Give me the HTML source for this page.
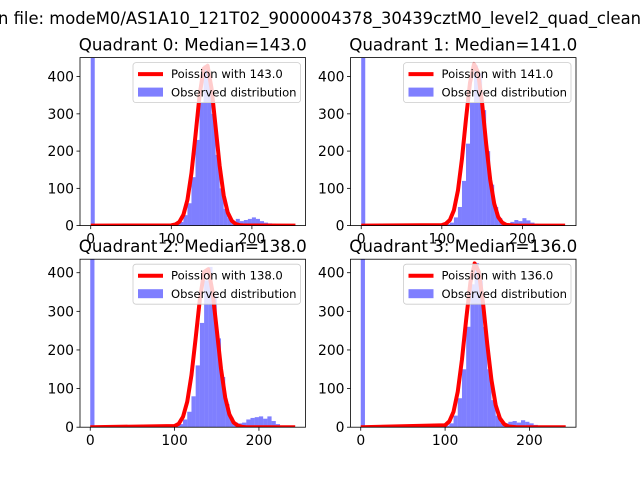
<!DOCTYPE html>
<html><head><meta charset="utf-8"><style>
html,body{margin:0;padding:0;background:#fff;}
svg{display:block;font-family:"DejaVu Sans","Liberation Sans",sans-serif;}
</style></head><body>
<svg id="fig" width="640" height="480" viewBox="0 0 640 480">
<rect width="640" height="480" fill="#fff"/>
<text x="-2" y="24" font-size="16.7" textLength="643" lengthAdjust="spacingAndGlyphs">n file: modeM0/AS1A10_121T02_9000004378_30439cztM0_level2_quad_clean</text>
</svg>
<script>
const medians = [143.0, 141.0, 138.0, 136.0];
const binStarts = [];
for (let b = 0; b < 250; b += 5) binStarts.push(b);
const hist0 = [2000,0,0,0,0,0,0,0,0,0,0,0,0,0,1,1,2,2,3,3,3,5,10,28,60,130,230,330,430,400,300,190,100,45,20,10,18,12,15,18,22,18,12,8,6,5,3,4,1,0];
const hist1 = [2000,0,0,0,0,0,0,0,0,0,0,0,0,0,1,1,1,2,2,3,2,4,8,22,50,120,220,330,430,410,310,200,110,50,20,8,6,10,15,12,20,14,8,5,3,2,1,0,0,0];
const hist2 = [2000,0,0,0,0,0,0,0,0,0,0,0,0,0,1,1,2,2,2,3,3,8,20,40,80,160,270,380,415,340,230,130,60,25,12,10,12,20,24,26,28,22,28,16,8,0,0,0,0,0];
const hist3 = [2000,0,0,0,0,0,0,0,0,0,0,0,0,0,1,1,2,2,3,3,4,10,30,75,150,260,370,425,380,260,150,70,30,12,10,14,16,12,18,14,10,6,3,2,1,0,0,0,0,0];
const curveX = [0,100,105,110,115,120,125,130,135,140,145,150,155,160,165,170,175,180,185,190];
const curveEnds = [254,253,243,243];
const curve0 = [0,0.7,2.9,10,29,69,141,242,348,421,429,367,264,160,81,35,13,4,1,0.2,0];
const curve1 = [0,1.3,5,15,41,94,179,286,384,434,411,329,220,124,59,23,8,2,1,0,0];
const curve2 = [0,3,9,27,66,135,231,332,402,409,350,252,152,77,33,12,4,1,0,0,0];
const curve3 = [0,5,15,40,92,175,279,375,424,402,321,215,122,57,23,8,2,1,0,0,0];
const yTicks = [0,100,200,300,400];
const xTicks = [0,100,200];
const hists = [hist0,hist1,hist2,hist3];
const curves = [curve0,curve1,curve2,curve3];
const yMaxes = [451,451,435,435];
const xMins = [-13.3,-13.3,-12.15,-12.15];
const xMaxs = [266.5,266.5,255.2,255.2];

const NS = "http://www.w3.org/2000/svg";
const fig = document.getElementById('fig');
function mk(tag, attrs, parent){const e=document.createElementNS(NS,tag);for(const k in attrs)e.setAttribute(k,attrs[k]);(parent||fig).appendChild(e);return e;}
const boxes = [[80,57.6],[350.5,57.6],[80,259.2],[350.5,259.2]];
const W = 225.5, H = 168;
const defs = mk('defs',{});
for (let q=0;q<4;q++){
  const [ox,oy]=boxes[q];
  const XMIN = xMins[q], XMAX = xMaxs[q];
  const xs = v => ox + (v - XMIN) / (XMAX - XMIN) * W;
  const ys = v => oy + H - v / yMaxes[q] * H;
  const g = mk('g',{});
  
  
  const cp = mk('clipPath',{id:'cp'+q},defs);
  mk('rect',{x:ox,y:oy,width:W,height:H},cp);
  const plot = mk('g',{'clip-path':'url(#cp'+q+')'},g);
  const bars = mk('g',{fill:'#0000ff','fill-opacity':0.5},plot);
  hists[q].forEach((v,i)=>{
    if(v<=0)return;
    const r = mk('rect',{x:xs(binStarts[i]),y:ys(v),width:xs(binStarts[i]+5)-xs(binStarts[i]),height:ys(0)-ys(v)},bars);
    
    
  });
  const cx = curveX.concat([curveEnds[q]]);
  const pts = cx.map((x,i)=>xs(x).toFixed(2)+','+ys(curves[q][i]).toFixed(2)).join(' ');
  const pl = mk('polyline',{points:pts,fill:'none',stroke:'#ff0000','stroke-width':4,'stroke-linejoin':'round'},plot);
  
  
  yTicks.forEach(t=>{
    const y=ys(t);
    mk('line',{x1:ox-3.5,x2:ox,y1:y,y2:y,stroke:'#000','stroke-width':0.8},g);
    const tx=mk('text',{x:ox-6,y:y+5,'font-size':13.9,'text-anchor':'end'},g);
    tx.textContent=t;
    
    
  });
  xTicks.forEach(t=>{
    const x=xs(t);
    mk('line',{x1:x,x2:x,y1:oy+H,y2:oy+H+3.5,stroke:'#000','stroke-width':0.8},g);
    const tx=mk('text',{x:x,y:oy+H+18,'font-size':13.9,'text-anchor':'middle'},g);
    tx.textContent=t;
    
    
  });
  mk('rect',{x:ox,y:oy,width:W,height:H,fill:'none',stroke:'#000','stroke-width':0.8},g);
  const lg = mk('g',{},g);
  
  
  const lx = ox+W-172.5, ly = oy+5;
  mk('rect',{x:lx,y:ly,width:167.5,height:40,rx:3,fill:'#fff','fill-opacity':0.8,stroke:'#cccccc','stroke-width':0.8},lg);
  mk('line',{x1:lx+5,x2:lx+30,y1:ly+11.5,y2:ly+11.5,stroke:'#ff0000','stroke-width':4},lg);
  const t1=mk('text',{x:lx+38,y:ly+15.5,'font-size':11.6},lg);
  t1.textContent='Poission with '+medians[q].toFixed(1);
  
  
  mk('rect',{x:lx+5,y:ly+25,width:25,height:9,fill:'#0000ff','fill-opacity':0.5},lg);
  const t2=mk('text',{x:lx+38,y:ly+34,'font-size':11.6},lg);
  t2.textContent='Observed distribution';
  
  
  const tt=mk('text',{x:ox+W/2,y:oy-7,'font-size':16.7,'text-anchor':'middle'},g);
  tt.textContent='Quadrant '+q+': Median='+medians[q].toFixed(1);
  
  
}
</script>
</body></html>
